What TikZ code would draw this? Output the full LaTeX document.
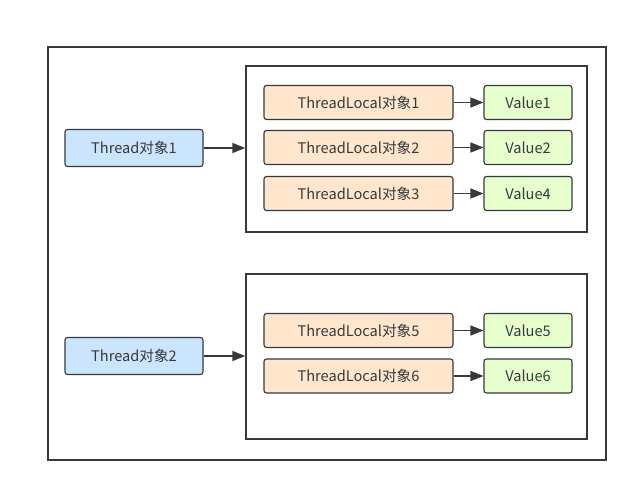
\documentclass[tikz,border=0pt]{standalone}
\usepackage{fontspec}
\setmainfont{Noto Sans CJK SC}
\usetikzlibrary{arrows.meta}

\definecolor{linegray}{HTML}{36393D}
\definecolor{threadblue}{HTML}{CCE5FF}
\definecolor{localorange}{HTML}{FFE6CC}
\definecolor{valuegreen}{HTML}{E6FFCC}

\tikzset{
  obj/.style={draw=linegray, line width=1.1pt, rounded corners=2.5pt, minimum height=34pt,
    inner sep=0pt, font=\fontsize{14.6}{16}\selectfont, text=linegray},
  threadobj/.style={obj, fill=threadblue, minimum width=138pt, minimum height=37pt},
  localobj/.style={obj, fill=localorange, minimum width=189pt},
  valueobj/.style={obj, fill=valuegreen, minimum width=88pt},
  mapbox/.style={draw=linegray, line width=1.2pt, minimum width=341pt, inner sep=0pt},
  link/.style={draw=linegray, line width=1.3pt, -{Triangle[length=13pt,width=10pt]}}
}

\begin{document}
\begin{tikzpicture}[x=1pt,y=-1pt]
    \useasboundingbox (0,0) rectangle (638,492);
    \draw[linegray, line width=1.3pt] (48,47) rectangle (606,460);

    \node[mapbox, minimum height=166pt] (map1) at (416.5,149) {};
    \node[mapbox, minimum height=165pt] (map2) at (416.5,356.5) {};

    \node[threadobj] (thread1) at (134,148) {Thread对象1};
    \node[threadobj] (thread2) at (134,356) {Thread对象2};

    \node[localobj] (local1) at (358.5,102.5) {ThreadLocal对象1};
    \node[localobj] (local2) at (358.5,147.5) {ThreadLocal对象2};
    \node[localobj] (local3) at (358.5,193.5) {ThreadLocal对象3};
    \node[localobj] (local5) at (358.5,330.5) {ThreadLocal对象5};
    \node[localobj] (local6) at (358.5,376) {ThreadLocal对象6};

    \node[valueobj] (value1) at (528,102.5) {Value1};
    \node[valueobj] (value2) at (528,147.5) {Value2};
    \node[valueobj] (value4) at (528,193.5) {Value4};
    \node[valueobj] (value5) at (528,330.5) {Value5};
    \node[valueobj] (value6) at (528,376) {Value6};

    \draw[link] (thread1) -- (thread1 -| map1.west);
    \draw[link] (thread2) -- (thread2 -| map2.west);

    \draw[link] (local1) -- (value1);
    \draw[link] (local2) -- (value2);
    \draw[link] (local3) -- (value4);
    \draw[link] (local5) -- (value5);
    \draw[link] (local6) -- (value6);
\end{tikzpicture}
\end{document}
